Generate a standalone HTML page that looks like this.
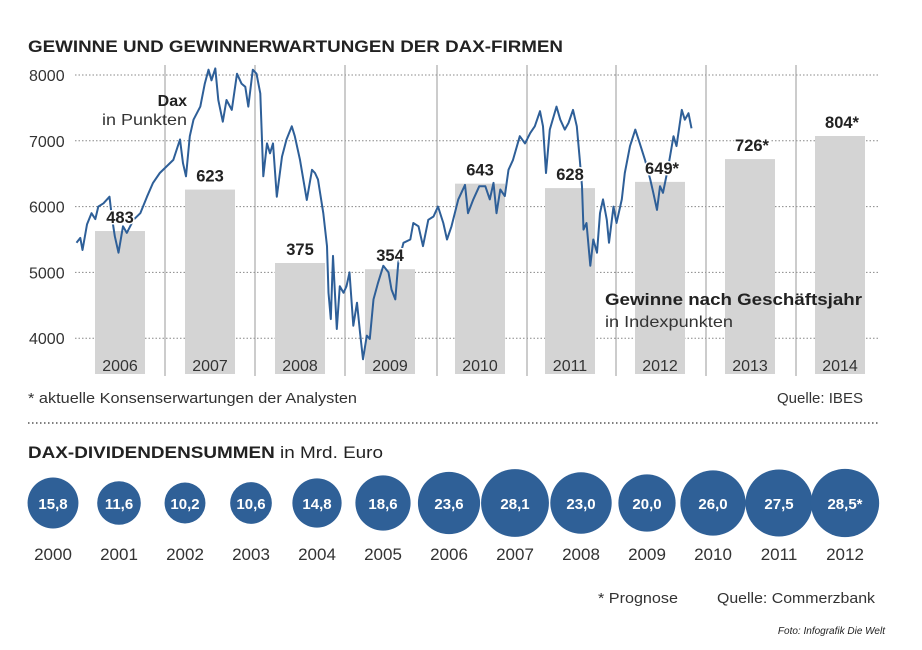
<!DOCTYPE html>
<html><head><meta charset="utf-8">
<style>
html,body{margin:0;padding:0;background:#fff;}
svg{display:block;font-family:"Liberation Sans",sans-serif;}
</style></head>
<body>
<svg id="c" width="922" height="650" viewBox="0 0 922 650" xmlns="http://www.w3.org/2000/svg">
<text x="28" y="52" font-size="17" font-weight="bold" fill="#222" textLength="535" lengthAdjust="spacingAndGlyphs">GEWINNE UND GEWINNERWARTUNGEN DER DAX-FIRMEN</text>
<g id="grid"></g>
<g id="bars"></g>
<g id="line"></g>
<text x="187" y="106" font-size="16" font-weight="bold" fill="#222" text-anchor="end">Dax</text>
<text x="102" y="125" font-size="16" fill="#333" textLength="85" lengthAdjust="spacingAndGlyphs">in Punkten</text>
<text x="605" y="305" font-size="16.5" font-weight="bold" fill="#222" textLength="257" lengthAdjust="spacingAndGlyphs">Gewinne nach Geschäftsjahr</text>
<text x="605" y="327" font-size="16" fill="#333" textLength="128" lengthAdjust="spacingAndGlyphs">in Indexpunkten</text>
<text x="28" y="403" font-size="15" fill="#333" textLength="329" lengthAdjust="spacingAndGlyphs">* aktuelle Konsenserwartungen der Analysten</text>
<text x="777" y="403" font-size="15" fill="#333" textLength="86" lengthAdjust="spacingAndGlyphs">Quelle: IBES</text>
<line x1="28" y1="423" x2="878" y2="423" stroke="#555" stroke-width="1.5" stroke-dasharray="1.5,2.5"/>
<text x="28" y="458" font-size="17" fill="#222" textLength="355" lengthAdjust="spacingAndGlyphs"><tspan font-weight="bold">DAX-DIVIDENDENSUMMEN</tspan> in Mrd. Euro</text>
<g id="div"></g>
<text x="598" y="603" font-size="15" fill="#333" textLength="80" lengthAdjust="spacingAndGlyphs">* Prognose</text>
<text x="717" y="603" font-size="15" fill="#333" textLength="158" lengthAdjust="spacingAndGlyphs">Quelle: Commerzbank</text>
<text x="885" y="634" font-size="10" font-style="italic" fill="#222" text-anchor="end">Foto: Infografik Die Welt</text>
</svg>
<script>
// Profit bars
const profitYears = ["2006","2007","2008","2009","2010","2011","2012","2013","2014"];
const profitValues = [483,623,375,354,643,628,649,726,804];
const profitLabels = ["483","623","375","354","643","628","649*","726*","804*"];
// Y axis ticks
const yTicks = [8000,7000,6000,5000,4000];
// DAX series: months since Jan 2006, index value
const daxMonths = [0.2,0.7,1.0,1.6,2.2,2.7,3.1,3.8,4.6,4.9,5.3,5.8,6.4,6.9,7.8,8.7,9.6,10.4,11.3,12.2,13.1,14.0,14.4,14.8,15.3,15.8,16.7,17.3,17.8,18.2,18.7,19.1,19.7,20.2,20.9,21.6,22.2,22.7,23.1,23.7,24.2,24.7,25.1,25.6,26.0,26.4,26.9,27.6,28.2,28.9,29.3,30.0,30.9,31.6,32.0,32.4,33.1,33.6,33.8,34.1,34.4,34.9,35.3,35.8,36.2,36.6,37.1,37.6,38.0,38.4,38.9,39.3,39.8,40.4,41.1,41.8,42.2,42.7,43.1,43.8,44.7,45.1,45.8,46.4,47.1,47.8,48.4,49.1,49.6,50.2,51.1,52.0,52.4,53.1,53.9,54.7,55.3,55.8,56.2,56.7,57.3,57.8,58.4,59.3,60.0,60.7,61.3,62.0,62.4,62.8,63.3,64.2,64.7,65.3,65.8,66.4,66.9,67.3,67.6,67.8,68.2,68.7,69.1,69.6,70.0,70.4,70.9,71.2,71.8,72.2,72.9,73.3,74.0,74.7,75.3,76.0,76.7,77.1,77.6,78.0,78.4,79.1,79.8,80.2,80.9,81.3,81.8,82.2];
const daxValues = [5450,5525,5340,5730,5900,5810,6000,6050,6150,5850,5550,5300,5700,5600,5800,5900,6150,6360,6510,6610,6710,7020,6660,6460,7070,7320,7520,7870,8080,7920,8100,7620,7290,7620,7470,8020,7870,7820,7520,8080,8020,7720,6460,6960,6810,6960,6150,6760,7020,7220,7070,6710,6100,6560,6510,6410,5900,5400,4690,4290,5250,4140,4790,4690,4790,5000,4190,4540,4090,3680,4040,3990,4590,4840,5100,5000,4740,4590,5150,5450,5500,5750,5700,5400,5800,5850,6000,5750,5500,5700,6110,6330,5900,6110,6310,6310,6110,6360,5900,6260,6160,6560,6710,7070,6960,7120,7220,7450,7220,6510,7170,7520,7320,7170,7270,7470,7220,6710,6310,5650,5750,5100,5500,5300,5900,6110,5800,5450,6000,5750,6110,6510,6920,7170,6960,6710,6410,6210,5950,6310,6210,6610,7070,6920,7470,7320,7420,7190];
// Dividends
const divYears = ["2000","2001","2002","2003","2004","2005","2006","2007","2008","2009","2010","2011","2012"];
const divValues = [15.8,11.6,10.2,10.6,14.8,18.6,23.6,28.1,23.0,20.0,26.0,27.5,28.5];
const divLabels = ["15,8","11,6","10,2","10,6","14,8","18,6","23,6","28,1","23,0","20,0","26,0","27,5","28,5*"];

const NS="http://www.w3.org/2000/svg";
function mk(tag,attrs,parent,txt){const e=document.createElementNS(NS,tag);for(const k in attrs)e.setAttribute(k,attrs[k]);if(txt!==undefined)e.textContent=txt;parent.appendChild(e);return e;}
const yDax = v => 75 + (8000 - v) * 0.0658;
const xMonth = m => 75 + m * 7.5;
const yProfit = v => 374 - v * 0.296;
const xCol = i => 120 + i * 90;

const grid=document.getElementById('grid');
yTicks.forEach((t,i)=>{
  const l=mk('line',{x1:75,x2:880,y1:yDax(t),y2:yDax(t),stroke:'#888','stroke-width':1,'stroke-dasharray':'1.5,2'},grid);
  
  
  const tx=mk('text',{x:29,y:yDax(t)+6,'font-size':16,fill:'#333'},grid,String(t));
  
  
});
profitYears.slice(0,8).forEach((y,i)=>{
  const x=xCol(i)+45+(i>=3?2:0)-(i>=5?1:0);
  const l=mk('line',{x1:x,x2:x,y1:65,y2:376,stroke:'#999','stroke-width':1},grid);
  
  
});
const bars=document.getElementById('bars');
profitValues.forEach((v,i)=>{
  const r=mk('rect',{x:xCol(i)-25,y:yProfit(v),width:50,height:374-yProfit(v),fill:'#d4d4d4'},bars);
  
  
  const yl=mk('text',{x:xCol(i),y:371,'font-size':16,fill:'#333','text-anchor':'middle'},bars,profitYears[i]);
  
  
});
const line=document.getElementById('line');
let d='';
daxMonths.forEach((m,i)=>{d+=(i?'L':'M')+xMonth(m).toFixed(1)+','+yDax(daxValues[i]).toFixed(1);});
const p=mk('path',{d:d,fill:'none',stroke:'#2e5f98','stroke-width':2,'stroke-linejoin':'round'},line);


profitValues.forEach((v,i)=>{
  const t=mk('text',{x:xCol(i)+(profitLabels[i].length>3?2:0),y:yProfit(v)-8,'font-size':16.5,'font-weight':'bold',fill:'#222','text-anchor':'middle',stroke:'#fff','stroke-width':3,'paint-order':'stroke'},line,profitLabels[i]);
  
  
});
const dv=document.getElementById('div');
divValues.forEach((v,i)=>{
  const cx=53+i*66, r=6.4*Math.sqrt(v);
  const c=mk('circle',{cx:cx,cy:503,r:r,fill:'#2f6097'},dv);
  
  
  const t=mk('text',{x:cx,y:509,'font-size':15,'font-weight':'bold',fill:'#fff','text-anchor':'middle'},dv,divLabels[i]);
  
  
  const y=mk('text',{x:cx,y:560,'font-size':17,fill:'#333','text-anchor':'middle'},dv,divYears[i]);
  
  
});
</script>
</body></html>
